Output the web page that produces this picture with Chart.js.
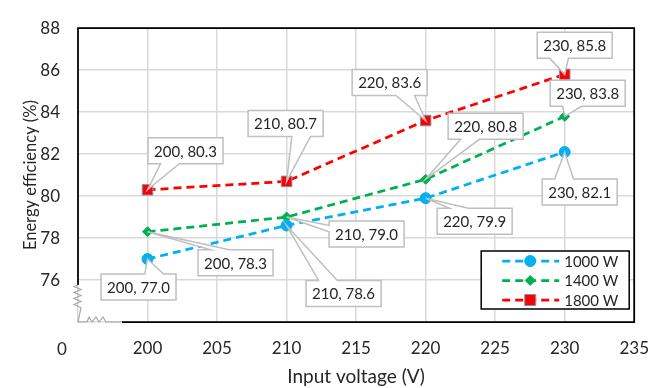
<!DOCTYPE html>
<html>
<head>
<meta charset="utf-8">
<script src="https://cdn.jsdelivr.net/npm/chart.js@4.4.1/dist/chart.umd.min.js"></script>
<style>
html, body { margin: 0; padding: 0; background: #fff; }
#wrap { width: 665px; height: 388px; }
</style>
</head>
<body>
<div id="wrap"><canvas id="chart" width="665" height="388"></canvas></div>
<script>
// data
const voltages = [200, 210, 220, 230];
const eff1000 = [77.0, 78.6, 79.9, 82.1];
const eff1400 = [78.3, 79.0, 80.8, 83.8];
const eff1800 = [80.3, 80.7, 83.6, 85.8];
const seriesNames = ['1000 W', '1400 W', '1800 W'];
const xTickValues = [195, 200, 205, 210, 215, 220, 225, 230, 235];
const yTickValues = [74, 76, 78, 80, 82, 84, 86, 88];

// callout box offset from its point (px), layout only
const calloutOffsets = [
    [[-9, 28], [57, 68], [49, 23], [15, 40]],
    [[88, 31], [80, 17], [60, -53], [23, -23]],
    [[38, -39], [-1, -58], [-36, -38], [10, -29]]
];

const FONT = 'Lato, "Open Sans", sans-serif';
const TEXT = '#262626';

const toPoints = vals => vals.map((v, i) => ({ x: voltages[i], y: v }));

/*==================== CALLOUTS ====================*/
function calloutPath(ctx, l, t, w, h, px, py) {
    const r = l + w, b = t + h, hc = l + w / 2, vc = t + h / 2;
    const dx = px - hc, dy = py - vc;
    const dz = Math.abs(dy) - Math.abs(dx * h / w);
    const x1 = l + w * (dx > 0 ? 7 : 2) / 12, x2 = l + w * (dx > 0 ? 10 : 5) / 12;
    const y1 = t + h * (dy > 0 ? 7 : 2) / 12, y2 = t + h * (dy > 0 ? 10 : 5) / 12;
    const xl = dz > 0 ? l : (dx > 0 ? l : px);
    const yl = dz > 0 ? y1 : (dx > 0 ? y1 : py);
    const xt = dz > 0 ? (dy > 0 ? x1 : px) : x1;
    const yt = dz > 0 ? (dy > 0 ? t : py) : t;
    const xr = dz > 0 ? r : (dx > 0 ? px : r);
    const yr = dz > 0 ? y1 : (dx > 0 ? py : y1);
    const xb = dz > 0 ? (dy > 0 ? px : x1) : x1;
    const yb = dz > 0 ? (dy > 0 ? py : b) : b;
    ctx.beginPath();
    ctx.moveTo(l, t); ctx.lineTo(x1, t); ctx.lineTo(xt, yt); ctx.lineTo(x2, t); ctx.lineTo(r, t);
    ctx.lineTo(r, y1); ctx.lineTo(xr, yr); ctx.lineTo(r, y2); ctx.lineTo(r, b);
    ctx.lineTo(x2, b); ctx.lineTo(xb, yb); ctx.lineTo(x1, b); ctx.lineTo(l, b);
    ctx.lineTo(l, y2); ctx.lineTo(xl, yl); ctx.lineTo(l, y1);
    ctx.closePath();
}

const calloutPlugin = {
    id: 'callouts',
    afterDatasetsDraw(chart) {
        const ctx = chart.ctx;
        ctx.save();
        ctx.font = '15px ' + FONT;
        ctx.textAlign = 'center';
        ctx.textBaseline = 'middle';
        chart.data.datasets.forEach((ds, i) => {
            const meta = chart.getDatasetMeta(i);
            meta.data.forEach((pt, j) => {
                const label = voltages[j] + ', ' + ds.data[j].y.toFixed(1);
                const w = ctx.measureText(label).width + 12, h = 26;
                const cx = pt.x + calloutOffsets[i][j][0], cy = pt.y + calloutOffsets[i][j][1];
                calloutPath(ctx, cx - w / 2, cy - h / 2, w, h, pt.x, pt.y);
                ctx.fillStyle = '#fff';
                ctx.fill();
                ctx.strokeStyle = '#bfbfbf';
                ctx.lineWidth = 1.5;
                ctx.stroke();
                ctx.fillStyle = TEXT;
                ctx.fillText(label, cx, cy + 1);
            });
        });
        ctx.restore();
    }
};

/*==================== FRAME + AXIS BREAK ====================*/
const framePlugin = {
    id: 'frame',
    beforeDatasetsDraw(chart) {
        const { ctx, chartArea: a } = chart;
        ctx.save();
        ctx.strokeStyle = '#000';
        ctx.lineWidth = 1.75;
        ctx.beginPath();
        ctx.moveTo(a.left, a.bottom - 37);
        ctx.lineTo(a.left, a.top);
        ctx.lineTo(a.right, a.top);
        ctx.lineTo(a.right, a.bottom);
        ctx.lineTo(a.left + 44, a.bottom);
        ctx.stroke();
        // break marks
        ctx.strokeStyle = '#a6a6a6';
        ctx.lineWidth = 1.2;
        ctx.beginPath();
        ctx.moveTo(a.left, a.bottom - 37);
        const zy = a.bottom - 37;
        for (let k = 0; k < 4; k++) {
            ctx.lineTo(a.left - 4, zy + k * 6 + 1.5);
            ctx.lineTo(a.left + 3, zy + k * 6 + 4.5);
        }
        ctx.lineTo(a.left, a.bottom);
        ctx.lineTo(a.left + 9, a.bottom);
        for (let k = 0; k < 3; k++) {
            ctx.lineTo(a.left + 11 + k * 7, a.bottom - 5);
            ctx.lineTo(a.left + 14 + k * 7, a.bottom);
        }
        ctx.lineTo(a.left + 44, a.bottom);
        ctx.stroke();
        // "0" label at the broken origin
        ctx.fillStyle = TEXT;
        ctx.font = '17px ' + FONT;
        ctx.textAlign = 'center';
        ctx.textBaseline = 'middle';
        ctx.fillText('0', a.left - 16, a.bottom + 28);
        ctx.restore();
    }
};

/*==================== LEGEND ====================*/
function drawMarker(ctx, style, x, y, ds) {
    ctx.fillStyle = ds.pointBackgroundColor;
    ctx.strokeStyle = ds.pointBorderColor;
    ctx.lineWidth = 1;
    ctx.beginPath();
    if (style === 'circle') {
        ctx.arc(x, y, 5.5, 0, Math.PI * 2);
    } else if (style === 'rectRot') {
        ctx.moveTo(x, y - 5); ctx.lineTo(x + 5, y); ctx.lineTo(x, y + 5); ctx.lineTo(x - 5, y);
        ctx.closePath();
    } else {
        ctx.rect(x - 5.5, y - 5.5, 11, 11);
    }
    ctx.fill();
    ctx.stroke();
}

const legendPlugin = {
    id: 'boxLegend',
    afterDraw(chart) {
        const { ctx, chartArea: a } = chart;
        const right = a.right - 5, bottom = a.bottom - 13;
        const left = right - 148, top = bottom - 58;
        ctx.save();
        ctx.fillStyle = '#fff';
        ctx.fillRect(left, top, right - left, bottom - top);
        ctx.strokeStyle = '#000';
        ctx.lineWidth = 1.5;
        ctx.strokeRect(left, top, right - left, bottom - top);
        ctx.font = '15px ' + FONT;
        ctx.textBaseline = 'middle';
        chart.data.datasets.forEach((ds, i) => {
            const y = top + 10 + i * 19.5;
            ctx.strokeStyle = ds.borderColor;
            ctx.lineWidth = ds.borderWidth;
            ctx.setLineDash(ds.borderDash);
            ctx.beginPath();
            ctx.moveTo(left + 21, y);
            ctx.lineTo(left + 78, y);
            ctx.stroke();
            ctx.setLineDash([]);
            drawMarker(ctx, ds.pointStyle, left + 49, y, ds);
            ctx.fillStyle = TEXT;
            ctx.fillText(ds.label, left + 83, y + 1);
        });
        ctx.restore();
    }
};

const series = [
    { label: seriesNames[0], values: eff1000, color: '#00b0f0', style: 'circle', radius: 5.5, border: '#00b0f0' },
    { label: seriesNames[1], values: eff1400, color: '#00b050', style: 'rectRot', radius: 5, border: '#00b050' },
    { label: seriesNames[2], values: eff1800, color: '#ff0000', style: 'rect', radius: 7.5, border: '#8497b0' }
];

new Chart(document.getElementById('chart').getContext('2d'), {
    type: 'line',
    data: {
        datasets: series.map(s => ({
            label: s.label,
            data: toPoints(s.values),
            borderColor: s.color,
            borderWidth: 2.75,
            borderDash: [8, 5],
            pointStyle: s.style,
            pointRadius: s.radius,
            pointBackgroundColor: s.color,
            pointBorderColor: s.border,
            pointBorderWidth: 1,
            fill: false,
            tension: 0
        }))
    },
    options: {
        responsive: false,
        animation: false,
        devicePixelRatio: 1,
        layout: { padding: { left: 0, right: 28, top: 17, bottom: 0 } },
        plugins: {
            legend: { display: false },
            tooltip: { enabled: false }
        },
        scales: {
            x: {
                type: 'linear',
                min: 195,
                max: 235,
                afterBuildTicks: scale => { scale.ticks = xTickValues.map(v => ({ value: v })); },
                afterFit: scale => { scale.height = 66; },
                grid: { color: '#d9d9d9', lineWidth: 1.5, drawTicks: false },
                border: { display: false },
                ticks: {
                    padding: 16,
                    color: TEXT,
                    font: { family: FONT, size: 17 },
                    callback: v => (v === 195 ? '' : String(v))
                },
                title: {
                    display: true,
                    text: 'Input voltage (V)',
                    color: TEXT,
                    font: { family: FONT, size: 19 },
                    padding: { top: 4, bottom: 0 }
                }
            },
            y: {
                min: 74,
                max: 88,
                afterBuildTicks: scale => { scale.ticks = yTickValues.map(v => ({ value: v })); },
                afterFit: scale => { scale.width = 78; },
                grid: { color: '#d9d9d9', lineWidth: 1.5, drawTicks: false },
                border: { display: false },
                ticks: {
                    padding: 18,
                    color: TEXT,
                    font: { family: FONT, size: 17 },
                    callback: v => (v === 74 ? '' : String(v))
                },
                title: {
                    display: true,
                    text: 'Energy efficiency (%)',
                    color: TEXT,
                    font: { family: FONT, size: 16.5 },
                    padding: { top: 21, bottom: 0 }
                }
            }
        }
    },
    plugins: [framePlugin, calloutPlugin, legendPlugin]
});
</script>
</body>
</html>
